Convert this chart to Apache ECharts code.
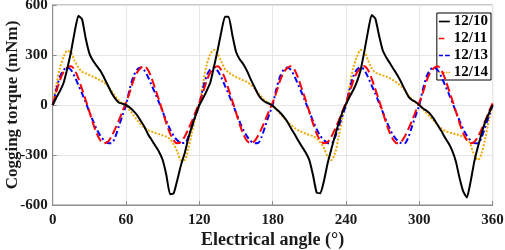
<!DOCTYPE html>
<html>
<head>
<meta charset="utf-8">
<script src="https://cdn.jsdelivr.net/npm/echarts@6/dist/echarts.min.js"></script>
<style>
html,body{margin:0;padding:0;background:#fff;}
#chart{width:505px;height:250px;}
</style>
</head>
<body>
<div id="chart"></div>
<script>
// Sample angles (degrees), every 3°
var angles = [0,3,6,9,12,15,18,21,24,27,30,33,36,39,42,45,48,51,54,57,
  60,63,66,69,72,75,78,81,84,87,90,93,96,99,102,105,108,111,114,117,
  120,123,126,129,132,135,138,141,144,147,150,153,156,159,162,165,168,171,174,177,
  180,183,186,189,192,195,198,201,204,207,210,213,216,219,222,225,228,231,234,237,
  240,243,246,249,252,255,258,261,264,267,270,273,276,279,282,285,288,291,294,297,
  300,303,306,309,312,315,318,321,324,327,330,333,336,339,342,345,348,351,354,357,
  360];

var seriesNames = ['12/10','12/11','12/13','12/14'];

var torque1210 = [0,45,85,135,220,320,440,535,515,400,310,265,235,205,165,120,75,40,15,8,
  0,-15,-35,-60,-95,-130,-175,-210,-245,-280,-330,-420,-535,-530,-450,-360,-290,-200,-125,-60,
  0,40,85,135,230,330,440,530,530,420,320,275,245,205,155,110,65,35,18,8,
  -5,-25,-45,-70,-100,-140,-175,-215,-250,-285,-330,-420,-525,-530,-455,-350,-265,-185,-110,-45,
  5,50,90,140,210,320,440,540,520,420,330,285,250,215,180,140,95,52,30,18,
  0,-20,-35,-55,-85,-120,-155,-195,-230,-275,-340,-440,-520,-555,-460,-340,-250,-170,-100,-50,
  0];

var torque1211 = [0,80,150,200,225,232,210,160,95,30,-40,-110,-170,-212,-230,-222,-190,-145,-95,-40,
  15,75,145,195,222,232,210,160,95,30,-40,-110,-170,-212,-230,-222,-190,-145,-95,-40,
  15,75,145,195,222,232,208,158,92,25,-45,-115,-175,-215,-228,-218,-185,-140,-90,-35,
  15,75,145,195,222,232,210,160,95,30,-40,-110,-170,-212,-230,-222,-190,-145,-95,-40,
  15,75,145,195,222,232,210,160,95,30,-40,-110,-170,-212,-230,-222,-190,-145,-95,-40,
  15,75,145,195,222,232,210,160,95,30,-40,-110,-170,-212,-230,-222,-190,-145,-95,-40,
  10];

var torque1213 = [0,95,170,210,225,210,170,120,70,15,-40,-95,-145,-185,-212,-228,-230,-195,-130,-65,
  0,95,170,212,225,208,168,118,68,15,-40,-95,-145,-185,-212,-228,-228,-192,-128,-62,
  5,100,175,215,225,205,165,115,65,10,-45,-100,-150,-188,-215,-229,-228,-190,-125,-60,
  0,95,170,212,225,210,170,120,70,15,-40,-95,-145,-185,-212,-228,-230,-195,-130,-65,
  0,95,172,213,226,210,168,118,68,15,-40,-95,-145,-185,-212,-228,-230,-195,-130,-65,
  0,95,170,212,225,210,170,120,70,15,-40,-95,-145,-185,-212,-228,-230,-195,-130,-65,
  0];

var torque1214 = [0,120,225,290,325,315,265,225,200,190,180,170,160,148,135,115,85,55,28,10,
  -5,-30,-60,-90,-115,-135,-150,-160,-168,-175,-182,-190,-205,-235,-280,-330,-330,-260,-165,-70,
  0,130,240,305,330,305,260,215,195,180,168,158,148,138,122,100,75,48,25,10,
  0,-25,-50,-75,-100,-120,-138,-152,-163,-172,-180,-187,-200,-225,-260,-310,-330,-290,-190,-80,
  0,120,225,290,330,320,270,220,195,185,178,170,160,148,132,115,90,60,35,15,
  0,-25,-50,-72,-95,-120,-140,-155,-163,-170,-175,-182,-190,-200,-240,-300,-330,-290,-200,-90,
  0];

function pairs(vals){
  return angles.map(function(a,i){ return [a, vals[i]]; });
}

var FONT = '"Liberation Serif","Times New Roman",serif';
var chart = echarts.init(document.getElementById('chart'), null, {renderer:'canvas'});

var styles = [
  {color:'#000000', type:'solid', smooth:0.15, icon:'path://M0,0h16v2.4h-16z'},
  {color:'#ff0000', type:[9,4], smooth:0.3, icon:'path://M0,0h8v2.4h-8z M15.9,0h0.1v2.4h-0.1z'},
  {color:'#0000ff', type:[6,3,2,3], smooth:0.3, icon:'path://M0,0h6v2.4h-6z M9,0h7v2.4h-7z'},
  {color:'#f2a600', type:[2,1.6], smooth:0.3, icon:'path://M0,0h2v2.4h-2z M3.5,0h2v2.4h-2z M7,0h2v2.4h-2z M10.5,0h2v2.4h-2z M14,0h2v2.4h-2z'}
];
var allVals = [torque1210, torque1211, torque1213, torque1214];

var series = seriesNames.map(function(n,i){
  return {
    name:n, type:'line', data:pairs(allVals[i]), showSymbol:false, symbol:'none',
    smooth:styles[i].smooth, z: 10 - i,
    lineStyle:{color:styles[i].color, width:2, type:styles[i].type},
    itemStyle:{color:styles[i].color}
  };
});

chart.setOption({
  animation:false,
  backgroundColor:'#ffffff',
  grid:{left:52.7, right:12.4, top:5, bottom:45, show:true, borderColor:'#8c8c8c', borderWidth:1,
        containLabel:false, outerBoundsMode:'none'},
  legend:{
    show:true, orient:'vertical', right:14, top:13,
    backgroundColor:'#ffffff', borderColor:'#000', borderWidth:1,
    padding:[1,3,0,2], itemGap:2, itemWidth:11, itemHeight:15,
    textStyle:{fontFamily:FONT, fontWeight:'bold', fontSize:15, color:'#000', padding:[0,0,0,-1]},
    data:seriesNames.map(function(n,i){ return {name:n, icon:styles[i].icon}; })
  },
  xAxis:{
    type:'value', min:0, max:360, interval:60,
    name:'Electrical angle (°)', nameLocation:'middle', nameGap:26, nameMoveOverlap:false,
    nameTextStyle:{fontFamily:FONT, fontWeight:'bold', fontSize:18, color:'#1a1a1a'},
    axisLine:{show:true, onZero:false, lineStyle:{color:'#8c8c8c'}},
    axisTick:{show:true, inside:true, length:4, lineStyle:{color:'#8c8c8c'}},
    axisLabel:{fontFamily:FONT, fontWeight:'bold', fontSize:15, color:'#1a1a1a', margin:8},
    splitLine:{show:true, lineStyle:{color:'#e6e6e6', width:1}}
  },
  yAxis:{
    type:'value', min:-600, max:600, interval:300,
    name:'Cogging torque (mNm)', nameLocation:'middle', nameGap:32, nameRotate:90, nameMoveOverlap:false,
    nameTextStyle:{fontFamily:FONT, fontWeight:'bold', fontSize:17, color:'#1a1a1a'},
    axisLine:{show:true, onZero:false, lineStyle:{color:'#8c8c8c'}},
    axisTick:{show:true, inside:true, length:4, lineStyle:{color:'#8c8c8c'}},
    axisLabel:{fontFamily:FONT, fontWeight:'bold', fontSize:15, color:'#1a1a1a', margin:5},
    splitLine:{show:true, lineStyle:{color:'#e6e6e6', width:1}}
  },
  series:series
});
</script>
</body>
</html>
